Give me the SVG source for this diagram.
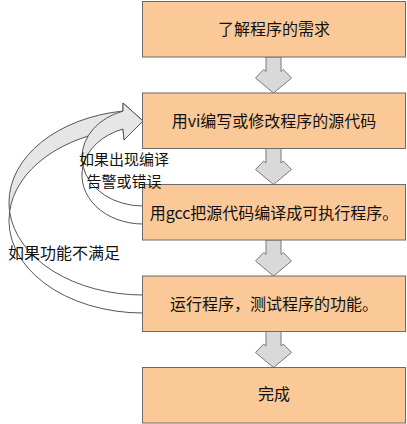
<svg xmlns="http://www.w3.org/2000/svg" width="407" height="424" viewBox="0 0 407 424">
<style>
.box{fill:#FBC997;stroke:#6b6b6b;stroke-width:1}
.t{font-family:"Noto Sans CJK SC","Noto Sans",sans-serif;font-size:16px;fill:#111;text-anchor:middle}
.lbl{font-size:15px}
.da{fill:#D9D9D9;stroke:#7a7a7a;stroke-width:1}
.front{fill:#E6E6E6;stroke:#555;stroke-width:1;stroke-linejoin:round}
.back{fill:#fff;stroke:#555;stroke-width:1}
</style>
<defs>
<path id="down" d="M266,0 L266,14.5 L263.7,12.5 L255.5,21 L273.5,36 L291.5,21 L283.3,12.5 L281,14.5 L281,0 Z"/>
</defs>
<rect width="407" height="424" fill="#fff"/>
<g id="connectors">
<use href="#down" class="da" transform="translate(0,57)"/>
<use href="#down" class="da" transform="translate(0,148.5)"/>
<use href="#down" class="da" transform="translate(0,240)"/>
<use href="#down" class="da" transform="translate(0,331.5)"/>
<g id="loop-function">
<path class="back" d="M9.6,211.5 A134,92.5 0 0 0 143,295 L143,313 A134,92.5 0 0 1 9.6,211.5 Z"/>
<path class="front" d="M123,111 A134,92.5 0 0 0 9,202.5 A134,92.5 0 0 0 9.6,211.5 A134,92.5 0 0 1 123,129 L124,140 L143,121 L123,103 Z"/>
</g>
<g id="loop-compile">
<path class="back" d="M83,166.2 A61,48.8 0 0 0 143,206 L143,224 A61,48.8 0 0 1 83,166.2 Z"/>
<path class="front" d="M123,111.1 A61,48.8 0 0 0 82,157.2 A61,48.8 0 0 0 83,166.2 A61,48.8 0 0 1 123,129.1 L124,140 L143,121 L123,103 Z"/>
</g>
</g>
<g id="n1"><rect class="box" x="142.5" y="1.5" width="263" height="55.5"/><text class="t" x="274" y="35">了解程序的需求</text></g>
<g id="n2"><rect class="box" x="142.5" y="93" width="263" height="55.5"/><text class="t" x="274" y="127">用vi编写或修改程序的源代码</text></g>
<g id="n3"><rect class="box" x="142.5" y="184.5" width="263" height="55.5"/><text class="t" x="274" y="219">用gcc把源代码编译成可执行程序。</text></g>
<g id="n4"><rect class="box" x="142.5" y="276" width="263" height="55.5"/><text class="t" x="274" y="310">运行程序，测试程序的功能。</text></g>
<g id="n5"><rect class="box" x="142.5" y="367.5" width="263" height="55.5"/><text class="t" x="274" y="400">完成</text></g>
<g id="label-compile"><text class="t lbl" x="124" y="164.5">如果出现编译</text><text class="t lbl" x="124" y="186.5">告警或错误</text></g>
<g id="label-function"><text class="t" x="64" y="259">如果功能不满足</text></g>
</svg>
